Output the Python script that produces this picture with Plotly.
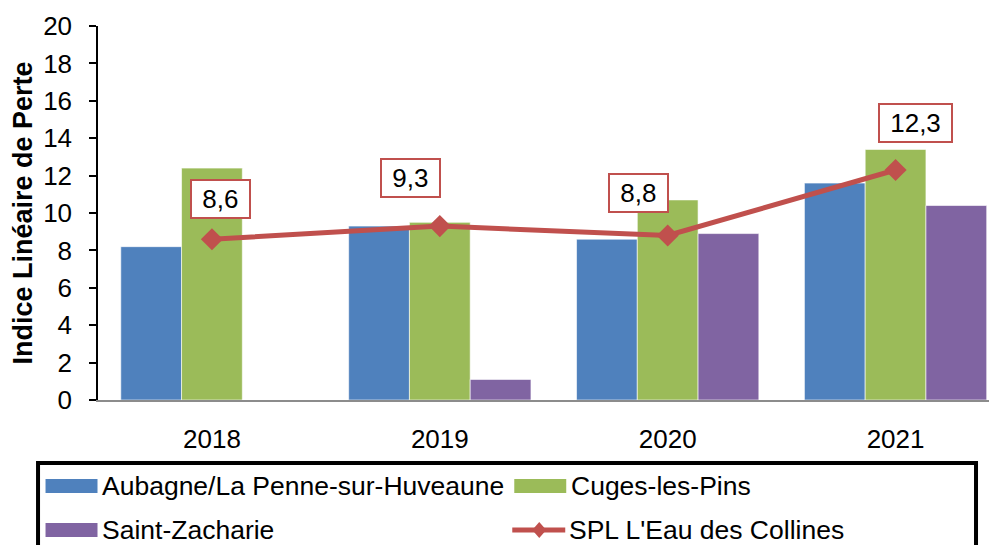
import plotly.graph_objects as go

YEARS = ["2018", "2019", "2020", "2021"]
SERIES_NAMES = ["Aubagne/La Penne-sur-Huveaune", "Cuges-les-Pins",
                "Saint-Zacharie", "SPL L'Eau des Collines"]
AUBAGNE = [8.2, 9.3, 8.6, 11.6]
CUGES = [12.4, 9.5, 10.7, 13.4]
ST_ZACHARIE = [0, 1.1, 8.9, 10.4]
SPL = [8.6, 9.3, 8.8, 12.3]

COLORS = ["#4F81BD", "#9BBB59", "#8064A2", "#C0504D"]
FONT = "Liberation Sans, Arial, sans-serif"

# label box offsets (px) relative to each SPL point
LABEL_SHIFT = [(9, 40), (-29, 48), (-29, 42), (20, 47)]

# the page body adds 8px on the left and top, so the figure is laid out
# 8px up/left and its right edge simply falls outside the window
PAGE = 8
W, H = 997, 545
L, T, B = 97.5 - PAGE, 26 - PAGE, 400 - PAGE
R = W
CAT_W = 228  # px per category in the reference


def px_x(v):  # screen px -> paper x
    return (v - PAGE - L) / (R - L)


def px_y(v):  # screen px -> paper y
    return (B - (v - PAGE)) / (B - T)


fig = go.Figure()
for name, vals, col in zip(SERIES_NAMES[:3], [AUBAGNE, CUGES, ST_ZACHARIE], COLORS):
    fig.add_bar(x=YEARS, y=vals, name=name, marker_color=col,
                marker_line=dict(color="rgba(255,255,255,0.6)", width=1))

fig.add_scatter(x=YEARS, y=SPL, name=SERIES_NAMES[3], mode="lines+markers",
                line=dict(color=COLORS[3], width=5),
                marker=dict(symbol="diamond", size=17, color=COLORS[3]))

for i, (v, (dx, dy)) in enumerate(zip(SPL, LABEL_SHIFT)):
    fig.add_annotation(x=i, y=v, xshift=dx, yshift=dy, showarrow=False,
                       text="&nbsp;" + f"{v:.1f}".replace(".", ",") + "&nbsp;",
                       font=dict(family=FONT, size=26, color="black"),
                       bgcolor="white", bordercolor=COLORS[3], borderwidth=2,
                       borderpad=3)

# legend box, cut by the bottom edge like the original
fig.add_shape(type="rect", xref="paper", yref="paper",
              x0=px_x(37.5), x1=px_x(976), y0=px_y(463), y1=px_y(600),
              line=dict(color="black", width=4), fillcolor="rgba(0,0,0,0)")

legend_pos = [(45, 486), (514, 486), (45, 530), (512, 530)]
for i, (name, (lx, ly)) in enumerate(zip(SERIES_NAMES, legend_pos)):
    if i < 3:
        fig.add_shape(type="rect", xref="paper", yref="paper",
                      x0=px_x(lx), x1=px_x(lx + 52), y0=px_y(ly - 7), y1=px_y(ly + 7),
                      line=dict(width=0), fillcolor=COLORS[i])
    else:
        fig.add_shape(type="line", xref="paper", yref="paper",
                      x0=px_x(lx), x1=px_x(lx + 53), y0=px_y(ly), y1=px_y(ly),
                      line=dict(color=COLORS[3], width=5))
        cx = lx + 27
        fig.add_shape(type="path", xref="paper", yref="paper",
                      path=f"M {px_x(cx - 7)},{px_y(ly)} L {px_x(cx)},{px_y(ly - 8)} "
                           f"L {px_x(cx + 7)},{px_y(ly)} L {px_x(cx)},{px_y(ly + 8)} Z",
                      line=dict(width=0), fillcolor=COLORS[3])
    fig.add_annotation(xref="paper", yref="paper", x=px_x(lx + 55), y=px_y(ly),
                       xanchor="left", yanchor="middle", showarrow=False,
                       text=name, font=dict(family=FONT, size=26.5, color="black"))

fig.update_layout(
    width=W, height=H,
    margin=dict(l=L, r=0, t=T, b=H - B, autoexpand=False),
    paper_bgcolor="white", plot_bgcolor="white",
    barmode="group", bargap=0.2, bargroupgap=0,
    showlegend=False,
    font=dict(family=FONT, size=25, color="black"),
)
fig.update_xaxes(type="category", range=[-0.5, -0.5 + (R - L) / CAT_W], showline=True,
                 linecolor="#8C8C8C", linewidth=2, ticks="", showgrid=False,
                 ticklabelstandoff=15, tickfont=dict(size=26))
fig.update_yaxes(range=[0, 20], dtick=2, showline=True, linecolor="black",
                 linewidth=1.5, ticks="outside", ticklen=7, tickcolor="black",
                 tickwidth=1.5, showgrid=False, zeroline=False,
                 ticklabelstandoff=12, tickfont=dict(size=26),
                 title=dict(text="<b>Indice Linéaire de Perte</b>", standoff=9,
                            font=dict(size=27)))

fig.write_html("out.html")
